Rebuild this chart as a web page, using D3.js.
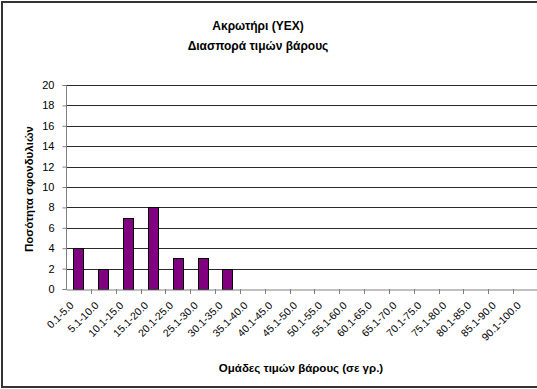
<!DOCTYPE html>
<html><head><meta charset="utf-8">
<script src="https://cdn.jsdelivr.net/npm/d3@7"></script>
<style>body{margin:0;background:#fff}svg{display:block;font-family:"Liberation Sans",Arial,sans-serif}</style>
</head><body>
<script>
const categories = ["0.1-5.0","5.1-10.0","10.1-15.0","15.1-20.0","20.1-25.0","25.1-30.0","30.1-35.0","35.1-40.0","40.1-45.0","45.1-50.0","50.1-55.0","55.1-60.0","60.1-65.0","65.1-70.0","70.1-75.0","75.1-80.0","80.1-85.0","85.1-90.0","90.1-100.0"];
const values = [4,2,7,8,3,3,2,0,0,0,0,0,0,0,0,0,0,0,0];
const yTicks = [0,2,4,6,8,10,12,14,16,18,20];
const titleLines = ["Ακρωτήρι (YEX)","Διασπορά τιμών βάρους"];
const yTitle = "Ποσότητα σφονδυλιών";
const xTitle = "Ομάδες τιμών βάρους (σε γρ.)";

const W=537,H=389;
const svg=d3.select("body").append("svg").attr("width",W).attr("height",H);
svg.append("rect").attr("x",2).attr("y",2).attr("width",560).attr("height",385)
  .attr("fill","#fff").attr("stroke","#333").attr("stroke-width",2);

const L=66,R=538,T=85,B=289;
const xb=d3.scaleBand().domain(categories).range([L,R]);
const y=d3.scaleLinear().domain([0,20]).range([B,T]);

// gridlines
svg.append("g").selectAll("line").data(yTicks.filter(d=>d>0)).join("line")
  .attr("x1",L).attr("x2",R).attr("y1",d=>Math.round(y(d))+0.5).attr("y2",d=>Math.round(y(d))+0.5)
  .attr("stroke","#2a2a2a").attr("stroke-width",1);

// bars
svg.append("g").selectAll("rect").data(values.map((v,i)=>({c:categories[i],v})).filter(d=>d.v>0)).join("rect")
  .attr("x",d=>Math.round(xb(d.c)+xb.bandwidth()/2-5)+0.5).attr("width",10)
  .attr("y",d=>Math.round(y(d.v))+0.5).attr("height",d=>Math.round(B)-Math.round(y(d.v)))
  .attr("fill","#800080").attr("stroke","#000").attr("stroke-width",1);

// y axis
const ya=svg.append("g").attr("transform",`translate(${L+0.5},0)`)
  .call(d3.axisLeft(y).tickValues(yTicks).tickSize(4).tickPadding(8).tickFormat(d3.format("d")));
ya.select(".domain").attr("stroke","#808080").attr("d",`M-4,${T+0.5}H0V${B+0.5}H-4`);
ya.selectAll(".tick line").attr("stroke","#808080");
ya.selectAll(".tick text").attr("font-size",11).attr("fill","#000").attr("font-family","Liberation Sans, Arial");

// x axis
const xa=svg.append("g").attr("transform",`translate(0,${B+0.5})`)
  .call(d3.axisBottom(xb).tickSize(0).tickFormat(""));
xa.select(".domain").attr("stroke","#808080");
svg.append("g").selectAll("line").data(categories.slice(1)).join("line")
  .attr("x1",d=>Math.round(xb(d))+0.5).attr("x2",d=>Math.round(xb(d))+0.5)
  .attr("y1",B).attr("y2",B+5).attr("stroke","#808080");
svg.append("g").selectAll("text").data(categories).join("text")
  .attr("transform",d=>`translate(${xb(d)+xb.bandwidth()/2-4},${B+17}) rotate(-45)`)
  .attr("text-anchor","end").attr("font-size",10.5).attr("fill","#000").text(d=>d);

// titles
svg.append("g").selectAll("text").data(titleLines).join("text")
  .attr("x",258).attr("y",(d,i)=>30+i*20).attr("text-anchor","middle")
  .attr("font-size",12).attr("font-weight","bold").text(d=>d);
svg.append("text").attr("transform",`translate(33,189) rotate(-90)`).attr("text-anchor","middle")
  .attr("font-size",11.5).attr("font-weight","bold").text(yTitle);
svg.append("text").attr("x",301).attr("y",372).attr("text-anchor","middle")
  .attr("font-size",11.5).attr("font-weight","bold").text(xTitle);
</script>
</body></html>
